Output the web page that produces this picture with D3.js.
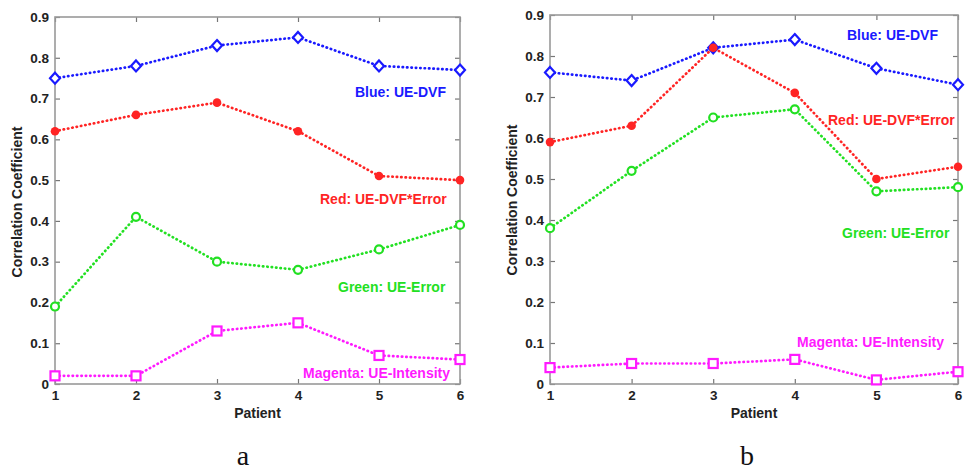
<!DOCTYPE html>
<html>
<head>
<meta charset="utf-8">
<script src="https://cdn.jsdelivr.net/npm/d3@7"></script>
<style>
  body { margin: 0; background: #fff; }
  svg { display: block; }
  .tick text { font-family: "Liberation Sans", Arial, sans-serif; font-weight: bold; font-size: 13.5px; fill: #222; }
</style>
</head>
<body>
<div id="chart"></div>
<script>
// patients on the x axis
var patients = [1, 2, 3, 4, 5, 6];
var yTicks = [0, 0.1, 0.2, 0.3, 0.4, 0.5, 0.6, 0.7, 0.8, 0.9];
var seriesNames = ['Blue: UE-DVF', 'Red: UE-DVF*Error', 'Green: UE-Error', 'Magenta: UE-Intensity'];

// panel a
var blueA = [0.75, 0.78, 0.83, 0.85, 0.78, 0.77];
var redA = [0.62, 0.66, 0.69, 0.62, 0.51, 0.50];
var greenA = [0.19, 0.41, 0.30, 0.28, 0.33, 0.39];
var magentaA = [0.02, 0.02, 0.13, 0.15, 0.07, 0.06];

// panel b
var blueB = [0.76, 0.74, 0.82, 0.84, 0.77, 0.73];
var redB = [0.59, 0.63, 0.82, 0.71, 0.50, 0.53];
var greenB = [0.38, 0.52, 0.65, 0.67, 0.47, 0.48];
var magentaB = [0.04, 0.05, 0.05, 0.06, 0.01, 0.03];

var colors = ['#1a1aff', '#ff2424', '#22e022', '#ff1aff'];
var markers = ['diamond', 'dot', 'circle', 'square'];

var svg = d3.select('#chart').append('svg')
  .attr('width', 966)
  .attr('height', 473);

var panels = [
  { x0: 55, x1: 460, y0: 384, y1: 17, letter: 'a', letterX: 243, ylabX: 17.5, ylabY: 202,
    values: [blueA, redA, greenA, magentaA],
    labelPos: [[355, 92], [320, 199], [338, 287], [303, 373]] },
  { x0: 550, x1: 958, y0: 384, y1: 15, letter: 'b', letterX: 747, ylabX: 512, ylabY: 200,
    values: [blueB, redB, greenB, magentaB],
    labelPos: [[847, 35], [828, 120], [842, 233], [797, 342]] }
];

function drawMarker(g, type, color, x, y) {
  if (type === 'diamond') {
    g.append('path')
      .attr('d', 'M' + x + ',' + (y - 5.5) + 'L' + (x + 5) + ',' + y + 'L' + x + ',' + (y + 5.5) + 'L' + (x - 5) + ',' + y + 'Z')
      .attr('fill', '#fff').attr('stroke', color).attr('stroke-width', 2.2);
  } else if (type === 'dot') {
    g.append('circle').attr('cx', x).attr('cy', y).attr('r', 4.3)
      .attr('fill', color);
  } else if (type === 'circle') {
    g.append('circle').attr('cx', x).attr('cy', y).attr('r', 4)
      .attr('fill', '#fff').attr('stroke', color).attr('stroke-width', 2.2);
  } else {
    g.append('rect').attr('x', x - 4.5).attr('y', y - 4.5).attr('width', 9).attr('height', 9)
      .attr('fill', '#fff').attr('stroke', color).attr('stroke-width', 2.2);
  }
}

panels.forEach(function (p) {
  var x = d3.scaleLinear().domain([1, 6]).range([p.x0, p.x1]);
  var y = d3.scaleLinear().domain([0, 0.9]).range([p.y0, p.y1]);
  var fmt = function (d) { return d === 0 ? '0' : d.toFixed(1); };
  var g = svg.append('g');

  // axes with inward ticks
  g.append('g').attr('transform', 'translate(0,' + p.y0 + ')')
    .call(d3.axisBottom(x).tickValues(patients).tickFormat(d3.format('d')).tickSizeInner(-5).tickSizeOuter(0).tickPadding(6));
  g.append('g').attr('transform', 'translate(0,' + p.y1 + ')')
    .call(d3.axisTop(x).tickValues(patients).tickFormat('').tickSizeInner(-5).tickSizeOuter(0));
  g.append('g').attr('transform', 'translate(' + p.x0 + ',0)')
    .call(d3.axisLeft(y).tickValues(yTicks).tickFormat(fmt).tickSizeInner(-5).tickSizeOuter(0).tickPadding(6));
  g.append('g').attr('transform', 'translate(' + p.x1 + ',0)')
    .call(d3.axisRight(y).tickValues(yTicks).tickFormat('').tickSizeInner(-5).tickSizeOuter(0));
  g.selectAll('.domain').remove();
  g.selectAll('.tick line').attr('stroke', '#777').attr('stroke-width', 1.2);

  g.append('rect')
    .attr('x', p.x0).attr('y', p.y1)
    .attr('width', p.x1 - p.x0).attr('height', p.y0 - p.y1)
    .attr('fill', 'none').attr('stroke', '#999').attr('stroke-width', 1.6);

  // series
  p.values.forEach(function (vals, i) {
    var line = d3.line()
      .x(function (d, j) { return x(patients[j]); })
      .y(function (d) { return y(d); });
    g.append('path').datum(vals)
      .attr('d', line)
      .attr('fill', 'none')
      .attr('stroke', colors[i])
      .attr('stroke-width', 2.7)
      .attr('stroke-linecap', 'round')
      .attr('stroke-dasharray', '0.4,4');
    vals.forEach(function (v, j) {
      drawMarker(g, markers[i], colors[i], x(patients[j]), y(v));
    });
    g.append('text')
      .attr('x', p.labelPos[i][0]).attr('y', p.labelPos[i][1])
      .attr('dy', '0.35em')
      .attr('font-family', '"Liberation Sans", Arial, sans-serif')
      .attr('font-weight', 'bold')
      .attr('font-size', 14)
      .attr('fill', colors[i])
      .text(seriesNames[i]);
  });

  // axis titles
  g.append('text')
    .attr('x', (p.x0 + p.x1) / 2).attr('y', 418)
    .attr('text-anchor', 'middle')
    .attr('font-family', '"Liberation Sans", Arial, sans-serif')
    .attr('font-weight', 'bold').attr('font-size', 14).attr('fill', '#222')
    .text('Patient');
  g.append('text')
    .attr('transform', 'translate(' + p.ylabX + ',' + p.ylabY + ') rotate(-90)')
    .attr('text-anchor', 'middle').attr('dy', '0.35em')
    .attr('font-family', '"Liberation Sans", Arial, sans-serif')
    .attr('font-weight', 'bold').attr('font-size', 14).attr('fill', '#222')
    .text('Correlation Coefficient');

  g.append('text')
    .attr('x', p.letterX).attr('y', 465)
    .attr('text-anchor', 'middle')
    .attr('font-family', '"Liberation Serif", "Times New Roman", serif')
    .attr('font-size', 28).attr('fill', '#111')
    .text(p.letter);
});
</script>
</body>
</html>
